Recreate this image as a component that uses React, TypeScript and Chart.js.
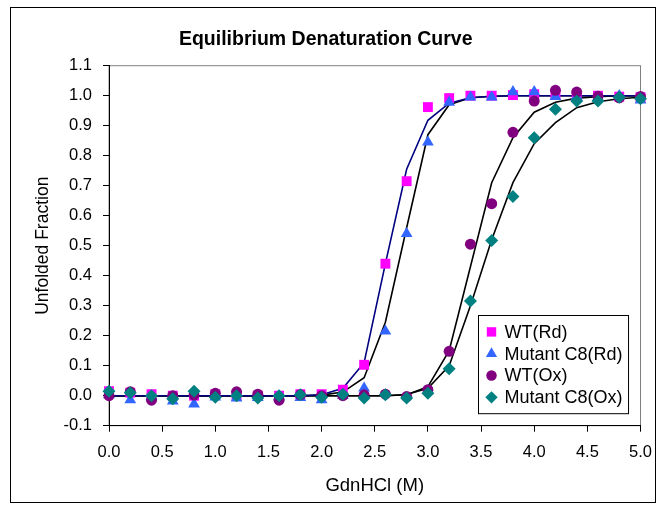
import React, { useEffect, useRef } from 'react';
import { Chart, registerables } from 'chart.js';

Chart.register(...registerables);

const FONT = 'Arial, "Liberation Sans", sans-serif';

// GdnHCl concentration (M)
const gdnHCl = [0.0, 0.2, 0.4, 0.6, 0.8, 1.0, 1.2, 1.4, 1.6, 1.8, 2.0, 2.2, 2.4, 2.6, 2.8, 3.0, 3.2, 3.4, 3.6, 3.8, 4.0, 4.2, 4.4, 4.6, 4.8, 5.0];

// Measured unfolded fractions
const wtRd = [0.015, 0.01, 0.005, 0.0, 0.0, 0.005, 0.0, 0.0, 0.0, 0.005, 0.005, 0.02, 0.103, 0.44, 0.715, 0.962, 0.992, 1.0, 1.0, 1.002, 1.005, 1.005, 1.0, 1.0, 0.997, 0.995];
const c8Rd = [0.003, -0.014, -0.003, -0.018, -0.028, -0.005, -0.008, -0.006, -0.002, -0.006, -0.014, 0.0, 0.025, 0.215, 0.54, 0.845, 0.978, 0.995, 0.995, 1.013, 1.013, 0.997, 0.997, 0.995, 1.0, 0.985];
const wtOx = [0.0, 0.013, -0.015, 0.0, 0.002, 0.008, 0.013, 0.005, -0.015, 0.003, 0.0, 0.0, 0.003, 0.005, -0.003, 0.02, 0.148, 0.505, 0.64, 0.878, 0.982, 1.018, 1.012, 0.998, 0.993, 0.997];
const c8Ox = [0.015, 0.01, 0.0, -0.01, 0.015, -0.005, 0.0, -0.008, 0.0, 0.003, -0.005, 0.005, -0.008, 0.003, -0.008, 0.008, 0.09, 0.316, 0.517, 0.664, 0.86, 0.955, 0.982, 0.982, 0.995, 0.99];

// Fitted curves
const fitWtRd = [0.0, 0.0, 0.0, 0.0, 0.0, 0.0, 0.0, 0.0, 0.0, 0.0, 0.003, 0.025, 0.11, 0.44, 0.755, 0.918, 0.975, 0.993, 0.998, 1.0, 1.0, 1.0, 1.0, 1.0, 1.0, 1.0];
const fitC8Rd = [0.0, 0.0, 0.0, 0.0, 0.0, 0.0, 0.0, 0.0, 0.0, 0.0, 0.002, 0.012, 0.06, 0.245, 0.56, 0.87, 0.97, 0.993, 0.998, 1.0, 1.0, 1.0, 1.0, 1.0, 1.0, 1.0];
const fitWtOx = [0.0, 0.0, 0.0, 0.0, 0.0, 0.0, 0.0, 0.0, 0.0, 0.0, 0.0, 0.0, 0.0, 0.0, 0.003, 0.03, 0.15, 0.43, 0.71, 0.86, 0.945, 0.978, 0.992, 0.997, 1.0, 1.0];
const fitC8Ox = [0.0, 0.0, 0.0, 0.0, 0.0, 0.0, 0.0, 0.0, 0.0, 0.0, 0.0, 0.0, 0.0, 0.0, 0.004, 0.025, 0.1, 0.3, 0.52, 0.71, 0.84, 0.91, 0.96, 0.98, 0.99, 0.995];

const xTicks = [0.0, 0.5, 1.0, 1.5, 2.0, 2.5, 3.0, 3.5, 4.0, 4.5, 5.0];
const yTicks = [-0.1, 0.0, 0.1, 0.2, 0.3, 0.4, 0.5, 0.6, 0.7, 0.8, 0.9, 1.0, 1.1];

const seriesLabels = ['WT(Rd)', 'Mutant C8(Rd)', 'WT(Ox)', 'Mutant C8(Ox)'];
const seriesValues = [wtRd, c8Rd, wtOx, c8Ox];
const seriesColors = ['#FF00FF', '#3366FF', '#800080', '#008080'];
const seriesStyles = ['rect', 'triangle', 'circle', 'rectRot'];
const seriesRadius = [7, 6.8, 5.5, 6.5];

const fitValues = [fitWtRd, fitC8Rd, fitWtOx, fitC8Ox];
const fitColors = ['#000080', '#000000', '#000000', '#000000'];

function drawMarker(ctx: CanvasRenderingContext2D, style: string, x: number, y: number, r: number) {
  ctx.beginPath();
  if (style === 'rect') {
    const s = Math.SQRT1_2 * r;
    ctx.rect(x - s, y - s, 2 * s, 2 * s);
  } else if (style === 'triangle') {
    let rad = 0;
    ctx.moveTo(x + Math.sin(rad) * r, y - Math.cos(rad) * r);
    rad += (2 * Math.PI) / 3;
    ctx.lineTo(x + Math.sin(rad) * r, y - Math.cos(rad) * r);
    rad += (2 * Math.PI) / 3;
    ctx.lineTo(x + Math.sin(rad) * r, y - Math.cos(rad) * r);
    ctx.closePath();
  } else if (style === 'circle') {
    ctx.arc(x, y, r, 0, Math.PI * 2);
  } else {
    ctx.moveTo(x, y - r);
    ctx.lineTo(x + r, y);
    ctx.lineTo(x, y + r);
    ctx.lineTo(x - r, y);
    ctx.closePath();
  }
  ctx.fill();
}

const framePlugin = {
  id: 'plotFrame',
  beforeDraw(chart: any) {
    const { ctx, chartArea } = chart;
    ctx.save();
    ctx.strokeStyle = '#808080';
    ctx.lineWidth = 1;
    ctx.strokeRect(chartArea.left, chartArea.top, chartArea.right - chartArea.left, chartArea.bottom - chartArea.top);
    ctx.restore();
  },
};

const legendPlugin = {
  id: 'insideLegend',
  afterDraw(chart: any) {
    const { ctx, chartArea } = chart;
    const items = chart.data.datasets.filter((d: any) => d.inLegend);
    ctx.save();
    ctx.font = `18px ${FONT}`;
    let maxW = 0;
    items.forEach((d: any) => {
      maxW = Math.max(maxW, ctx.measureText(d.label).width);
    });
    const rowH = 21.8;
    const padV = 16.4;
    const boxW = 26 + maxW + 6;
    const boxH = rowH * (items.length - 1) + padV * 2;
    const right = chartArea.right - 12.5;
    const bottom = chartArea.bottom - 12.7;
    const left = Math.round(right - boxW) + 0.5;
    const top = Math.round(bottom - boxH) + 0.5;
    ctx.fillStyle = '#ffffff';
    ctx.fillRect(left, top, boxW, boxH);
    ctx.strokeStyle = '#000000';
    ctx.lineWidth = 1;
    ctx.strokeRect(left, top, boxW, boxH);
    items.forEach((d: any, i: number) => {
      const cy = top + padV + i * rowH;
      ctx.fillStyle = d.backgroundColor;
      drawMarker(ctx, d.pointStyle, left + 13, cy, d.legendRadius);
      ctx.fillStyle = '#000000';
      ctx.textAlign = 'left';
      ctx.textBaseline = 'middle';
      ctx.fillText(d.label, left + 26, cy + 1);
    });
    ctx.restore();
  },
};

export default function App() {
  const canvasRef = useRef<HTMLCanvasElement | null>(null);

  useEffect(() => {
    if (!canvasRef.current) return;

    const fitDatasets = fitValues.map((vals, i) => ({
      label: 'fit ' + seriesLabels[i],
      data: gdnHCl.map((x, j) => ({ x, y: vals[j] })),
      showLine: true,
      borderColor: fitColors[i],
      backgroundColor: fitColors[i],
      borderWidth: 1.6,
      pointRadius: 0,
      pointHoverRadius: 0,
      tension: 0,
      order: 10,
      inLegend: false,
    }));

    const markerDatasets = seriesValues.map((vals, i) => ({
      label: seriesLabels[i],
      data: gdnHCl.map((x, j) => ({ x, y: vals[j] })),
      showLine: false,
      pointStyle: seriesStyles[i],
      pointRadius: seriesRadius[i],
      pointHoverRadius: seriesRadius[i],
      pointBorderWidth: 0,
      backgroundColor: seriesColors[i],
      borderColor: seriesColors[i],
      order: 4 - i,
      clip: false,
      inLegend: true,
      legendRadius: seriesRadius[i] * 0.95,
    }));

    const chart = new Chart(canvasRef.current, {
      type: 'scatter',
      data: { datasets: [...fitDatasets, ...markerDatasets] as any },
      options: {
        animation: false,
        responsive: true,
        maintainAspectRatio: false,
        layout: { padding: { left: 0, right: 14.5, top: 0, bottom: 0 } },
        plugins: {
          legend: { display: false },
          tooltip: { enabled: false },
          title: {
            display: true,
            text: 'Equilibrium Denaturation Curve',
            color: '#000',
            font: { family: FONT, size: 19.5, weight: 'bold' },
            padding: { top: 19.8, bottom: 14.5 },
          },
        },
        scales: {
          x: {
            type: 'linear',
            min: 0,
            max: 5,
            afterBuildTicks: (scale: any) => {
              scale.ticks = xTicks.map((v) => ({ value: v }));
            },
            afterFit: (scale: any) => {
              scale.height = 76.3;
              scale.paddingLeft = 0;
              scale.paddingRight = 0;
            },
            ticks: {
              color: '#000',
              font: { family: FONT, size: 16.5 },
              padding: 10.8,
              maxRotation: 0,
              autoSkip: false,
              callback: (v: any) => Number(v).toFixed(1),
            },
            grid: { drawOnChartArea: false, drawTicks: true, tickLength: 6, color: '#000' },
            border: { display: true, color: '#000', width: 1 },
            title: {
              display: true,
              text: 'GdnHCl (M)',
              color: '#000',
              font: { family: FONT, size: 18.5 },
              padding: { top: 0, bottom: 5 },
            },
          },
          y: {
            type: 'linear',
            min: -0.1,
            max: 1.1,
            afterBuildTicks: (scale: any) => {
              scale.ticks = yTicks.map((v) => ({ value: v }));
            },
            afterFit: (scale: any) => {
              scale.width = 98;
              scale.paddingTop = 0;
              scale.paddingBottom = 0;
            },
            ticks: {
              color: '#000',
              font: { family: FONT, size: 16.5 },
              padding: 11,
              autoSkip: false,
              callback: (v: any) => Number(v).toFixed(1),
            },
            grid: { drawOnChartArea: false, drawTicks: true, tickLength: 6, color: '#000' },
            border: { display: true, color: '#000', width: 1 },
            title: {
              display: true,
              text: 'Unfolded Fraction',
              color: '#000',
              font: { family: FONT, size: 17.5 },
              padding: { top: 21.5, bottom: 0 },
            },
          },
        },
      },
      plugins: [framePlugin, legendPlugin],
    });

    return () => {
      chart.destroy();
    };
  }, []);

  return (
    <div
      style={{
        position: 'absolute',
        left: 10,
        top: 7,
        width: 646,
        height: 496,
        border: '1px solid #000',
        boxSizing: 'border-box',
        background: '#fff',
      }}
    >
      <div style={{ position: 'relative', width: 644, height: 494 }}>
        <canvas ref={canvasRef} />
      </div>
    </div>
  );
}
